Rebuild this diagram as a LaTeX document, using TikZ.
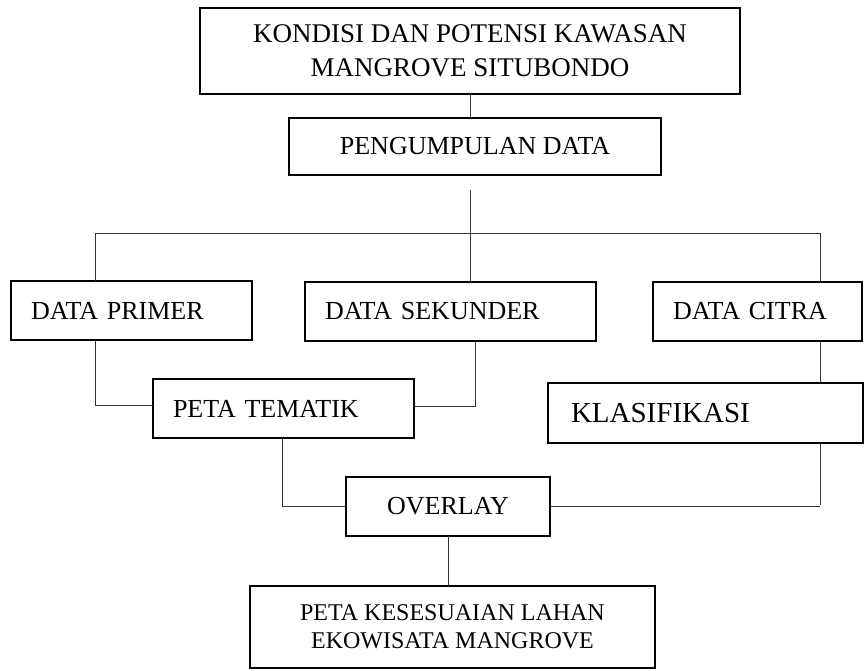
\documentclass[tikz,border=0pt]{standalone}
\usepackage{fontspec}
\setmainfont{Liberation Serif}
\usetikzlibrary{calc}

\begin{document}
\begin{tikzpicture}[x=1pt,y=-1pt,
        box/.style={draw,line width=1.3pt,inner sep=0pt,outer sep=0pt,align=center,font=\fontsize{26}{30}\selectfont},
        lbox/.style={draw,line width=1.3pt,inner ysep=0pt,inner xsep=20pt,outer sep=0pt,align=left,anchor=west,font=\fontsize{26}{30}\selectfont},
        line/.style={line width=1pt,draw=black!80}]
        \useasboundingbox (0,0) rectangle (864,671);

        \node[box,minimum width=540pt,minimum height=86pt,font=\fontsize{27}{34}\selectfont] (kondisi) at (470,51) {KONDISI DAN POTENSI KAWASAN\\MANGROVE SITUBONDO};
        \node[box,minimum width=372pt,minimum height=57pt] (pengumpulan) at (475,146.5) {PENGUMPULAN DATA};
        \node[lbox,text width=201pt,minimum height=59pt] (primer) at (11,310.5) {DATA PRIMER};
        \node[lbox,text width=251pt,minimum height=59pt] (sekunder) at (305,311.5) {DATA SEKUNDER};
        \node[lbox,text width=169pt,minimum height=59pt] (citra) at (653,311.5) {DATA CITRA};
        \node[lbox,text width=221pt,minimum height=59pt] (tematik) at (153,408.5) {PETA TEMATIK};
        \node[lbox,inner xsep=23pt,text width=269pt,minimum height=60pt,font=\fontsize{29}{34}\selectfont] (klasifikasi) at (548,413) {KLASIFIKASI};
        \node[box,minimum width=204pt,minimum height=59pt] (overlay) at (448,506.5) {OVERLAY};
        \node[box,minimum width=405pt,minimum height=82pt,font=\fontsize{24}{28}\selectfont] (hasil) at (452.5,627) {PETA KESESUAIAN LAHAN\\EKOWISATA MANGROVE};

        \coordinate (stem) at (470,190);
        \coordinate (split) at (470,233);
        \coordinate (kiri) at (95,233);
        \coordinate (kanan) at (820,233);

        \draw[line] (kondisi.south) -- (kondisi.south |- pengumpulan.north);
        \draw[line] (stem) -- (split);
        \draw[line] (kiri) -- (kanan);
        \draw[line] (kiri) -- (kiri |- primer.north);
        \draw[line] (split) -- (split |- sekunder.north);
        \draw[line] (kanan) -- (kanan |- citra.north);

        \draw[line] (kiri |- primer.south) |- ([yshift=3.5pt]tematik.west);
        \draw[line] ([xshift=24.5pt]sekunder.south) |- ([yshift=2.5pt]tematik.east);
        \draw[line] (kanan |- citra.south) -- (kanan |- klasifikasi.north);
        \draw[line] (kanan |- klasifikasi.south) -- ([yshift=2pt]kanan |- overlay.east);
        \draw[line] (overlay.east) -- (overlay.east -| kanan);
        \draw[line] ([xshift=-1.5pt]tematik.south) |- (overlay.west);
        \draw[line] (overlay.south) -- (overlay.south |- hasil.north);
\end{tikzpicture}
\end{document}
